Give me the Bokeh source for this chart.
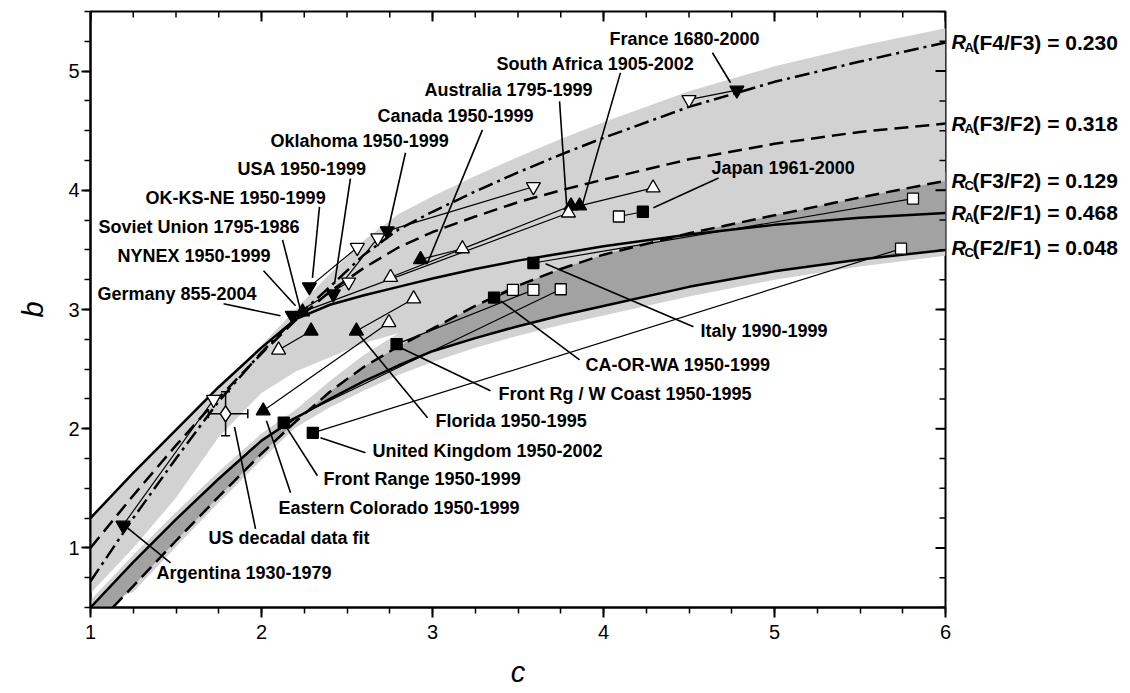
import numpy as np
from bokeh.plotting import figure
from bokeh.models import Range1d, FixedTicker, LinearAxis, ColumnDataSource
from bokeh.embed import file_html
from bokeh.resources import INLINE
from bokeh.core.properties import value

# ---------------- data ----------------
c_grid = [1.0, 1.25, 1.5, 1.75, 2.0, 2.2, 2.4, 2.6, 2.8, 3.0, 3.25, 3.5, 3.75, 4.0, 4.5, 5.0, 5.5, 6.0]
b_RA_F4F3 = [0.72, 1.25, 1.75, 2.23, 2.64, 2.93, 3.19, 3.46, 3.67, 3.82, 3.99, 4.15, 4.30, 4.44, 4.70, 4.91, 5.08, 5.24]
b_RA_F3F2 = [1.00, 1.44, 1.86, 2.26, 2.63, 2.91, 3.15, 3.35, 3.52, 3.65, 3.78, 3.90, 4.00, 4.09, 4.26, 4.39, 4.49, 4.56]
b_RA_F2F1 = [1.25, 1.63, 1.99, 2.35, 2.68, 2.92, 3.04, 3.12, 3.19, 3.26, 3.34, 3.41, 3.47, 3.53, 3.63, 3.71, 3.77, 3.81]
b_RC_F2F1 = [0.50, 0.88, 1.24, 1.58, 1.90, 2.09, 2.25, 2.40, 2.53, 2.65, 2.76, 2.86, 2.95, 3.03, 3.19, 3.32, 3.42, 3.50]
c_RC_F3F2 = [1.13, 1.25, 1.5, 1.75, 2.0, 2.2, 2.4, 2.6, 2.8, 3.0, 3.25, 3.5, 3.75, 4.0, 4.5, 5.0, 5.5, 6.0]
b_RC_F3F2 = [0.50, 0.68, 1.06, 1.43, 1.79, 2.06, 2.31, 2.52, 2.69, 2.84, 3.03, 3.20, 3.34, 3.46, 3.64, 3.79, 3.94, 4.08]

# shaded bands (edges, on c_grid)
band_hi = [1.25, 1.63, 1.99, 2.35, 2.70, 3.00, 3.30, 3.58, 3.80, 3.95, 4.12, 4.28, 4.43, 4.57, 4.83, 5.04, 5.21, 5.36]
band_lo = [0.62, 1.00, 1.42, 1.93, 2.30, 2.48, 2.60, 2.72, 2.80, 2.88, 2.98, 3.08, 3.18, 3.28, 3.45, 3.62, 3.78, 3.92]
halo_lo = [0.50, 0.63, 1.01, 1.38, 1.74, 2.01, 2.18, 2.32, 2.45, 2.56, 2.68, 2.78, 2.87, 2.95, 3.11, 3.25, 3.36, 3.45]
halo_hi = [0.56, 0.94, 1.30, 1.64, 1.96, 2.16, 2.40, 2.62, 2.80, 2.95, 3.12, 3.28, 3.42, 3.54, 3.72, 3.87, 4.01, 4.15]

# data series (c, b, open marker?)
series_names = ["France", "South Africa", "Australia", "Canada", "Oklahoma", "OK-KS-NE", "USA",
                "Germany", "Soviet Union", "NYNEX", "Florida", "Eastern Colorado", "Argentina",
                "Japan", "Italy", "CA-OR-WA", "Front Rg / W Coast", "Front Range", "United Kingdom"]
series_marker = ["inverted_triangle", "triangle", "triangle", "triangle", "inverted_triangle",
                 "inverted_triangle", "inverted_triangle", "inverted_triangle", "triangle", "triangle",
                 "triangle", "triangle", "inverted_triangle", "square", "square", "square", "square",
                 "square", "square"]
series_c = [[4.50, 4.78], [3.86, 4.29], [2.755, 3.81], [2.93, 3.175], [2.735, 3.59], [2.28, 2.56],
            [2.42, 2.68], [2.18, 2.51], [2.24, 3.795], [2.10, 2.29], [2.555, 2.89], [2.01, 2.745],
            [1.19, 1.72], [4.09, 4.23], [3.59, 5.81], [3.36, 3.47], [2.79, 3.59], [2.13, 3.75],
            [2.30, 5.74]]
series_b = [[4.76, 4.84], [3.87, 4.02], [3.27, 3.87], [3.42, 3.51], [3.66, 4.03], [3.19, 3.52],
            [3.13, 3.60], [2.95, 3.23], [2.98, 3.81], [2.66, 2.82], [2.82, 3.09], [2.15, 2.89],
            [1.19, 2.245], [3.78, 3.82], [3.39, 3.93], [3.10, 3.165], [2.71, 3.165], [2.05, 3.17],
            [1.965, 3.51]]
series_open = [[True, False], [False, True], [True, False], [False, True], [False, True], [False, True],
               [False, True], [False, True], [False, True], [True, False], [False, True], [False, True],
               [False, True], [True, False], [False, True], [False, True], [False, True], [False, True],
               [False, True]]

# US decadal data fit with error bars
us_c, us_b = 1.79, 2.125
us_c_lo, us_c_hi = 1.69, 1.92
us_b_lo, us_b_hi = 1.94, 2.31

# annotation labels: text, anchor (left, middle) and leader line
label_text = ["Oklahoma 1950-1999", "USA 1950-1999", "OK-KS-NE 1950-1999", "Soviet Union 1795-1986",
              "NYNEX 1950-1999", "Germany 855-2004", "Canada 1950-1999", "Australia 1795-1999",
              "South Africa 1905-2002", "France 1680-2000", "Japan 1961-2000", "Italy 1990-1999",
              "CA-OR-WA 1950-1999", "Front Rg / W Coast 1950-1995", "Florida 1950-1995",
              "United Kingdom 1950-2002", "Front Range 1950-1999", "Eastern Colorado 1950-1999",
              "US decadal data fit", "Argentina 1930-1979"]
label_c = [2.053, 1.860, 1.322, 1.047, 1.158, 1.041, 2.678, 2.953, 3.374, 4.035, 4.632, 4.567,
           3.895, 3.386, 3.018, 2.649, 2.363, 2.099, 1.690, 1.386]
label_b = [4.414, 4.179, 3.936, 3.693, 3.450, 3.132, 4.624, 4.839, 5.062, 5.272, 4.188, 2.822,
           2.536, 2.293, 2.066, 1.815, 1.580, 1.337, 1.085, 0.791]
lead_c0 = [2.842, 2.520, 2.339, 2.123, 2.012, 1.778, 3.292, 3.743, 4.099, 4.637, 4.673, 4.526,
           3.860, 3.339, 2.971, 2.608, 2.327, 2.170, 1.965, 1.468]
lead_b0 = [4.315, 4.097, 3.861, 3.584, 3.325, 3.048, 4.507, 4.746, 4.985, 5.154, 4.104, 2.855,
           2.578, 2.318, 2.092, 1.798, 1.605, 1.463, 1.160, 0.875]
lead_c1 = [2.743, 2.427, 2.298, 2.234, 2.199, 2.111, 2.971, 3.784, 3.877, 4.743, 4.292, 3.661,
           3.398, 2.813, 2.561, 2.345, 2.152, 2.029, 1.842, 1.216]
lead_b1 = [3.684, 3.215, 3.265, 2.963, 3.032, 2.947, 3.391, 3.882, 3.882, 4.902, 3.853, 3.384,
           3.073, 2.679, 2.805, 1.924, 1.999, 2.067, 2.016, 1.169]

# curve labels on the right
curve_sub = ["A", "A", "C", "A", "C"]
curve_rest = ["(F4/F3) = 0.230", "(F3/F2) = 0.318", "(F3/F2) = 0.129", "(F2/F1) = 0.468", "(F2/F1) = 0.048"]
curve_end_b = [5.24, 4.56, 4.08, 3.81, 3.52]

x_ticks = [1, 2, 3, 4, 5, 6]
y_ticks = [1, 2, 3, 4, 5]
x_minor = [round(v, 2) for v in np.arange(1, 6.001, 0.25)]
y_minor = [round(v, 2) for v in np.arange(0.5, 5.501, 0.25)]
X0, X1, Y0, Y1 = 1, 6, 0.5, 5.5

# ---------------- figure ----------------
FONT = "Liberation Sans"
p = figure(frame_width=855, frame_height=596, x_range=Range1d(X0, X1), y_range=Range1d(Y0, Y1),
           output_backend="svg", toolbar_location=None,
           min_border_left=90, min_border_right=183, min_border_top=11, min_border_bottom=84,
           x_axis_label="c", y_axis_label="b")
p.grid.visible = False
p.outline_line_color = "black"
p.outline_line_width = 2
p.background_fill_color = "white"
p.border_fill_color = "white"

bottom_ax = p.below[0]
left_ax = p.left[0]
bottom_ax.ticker = FixedTicker(ticks=x_ticks, minor_ticks=x_minor)
left_ax.ticker = FixedTicker(ticks=y_ticks, minor_ticks=y_minor)

for ax in [bottom_ax, left_ax]:
    ax.major_tick_out = 10
    ax.major_tick_in = 0
    ax.minor_tick_out = 6
    ax.minor_tick_in = 0
    ax.major_label_text_font = FONT
    ax.major_label_text_font_size = "20px"
    ax.major_label_text_color = "black"
    ax.axis_label_text_font = FONT
    ax.axis_label_text_font_size = "29px"
    ax.axis_label_text_font_style = "italic"
    ax.axis_label_text_color = "black"
    ax.axis_line_width = 2
    ax.major_tick_line_width = 2
    ax.minor_tick_line_width = 1.5
    ax.axis_line_color = "black"
    ax.major_tick_line_color = "black"
    ax.minor_tick_line_color = "black"
bottom_ax.major_label_standoff = 7
bottom_ax.axis_label_standoff = 14
left_ax.major_tick_out = 9
left_ax.major_label_standoff = 2
left_ax.axis_label_standoff = 16

# right-hand curve labels as stacked label-only axes (R, subscript, rest)
def label_axis(ticks, texts, size, style, standoff):
    ax = LinearAxis(ticker=FixedTicker(ticks=ticks, minor_ticks=[]),
                    major_label_overrides={t: s for t, s in zip(ticks, texts)})
    ax.major_tick_in = 0
    ax.major_tick_out = 0
    ax.minor_tick_in = 0
    ax.minor_tick_out = 0
    ax.axis_line_color = None
    ax.major_tick_line_color = None
    ax.minor_tick_line_color = None
    ax.major_label_standoff = standoff
    ax.major_label_text_font = FONT
    ax.major_label_text_font_size = size
    ax.major_label_text_font_style = style
    ax.major_label_text_color = "black"
    ax.major_label_orientation = "horizontal"
    return ax

sub_shift = 0.042  # subscript drop (about 5 px)
sub_ticks = [round(b - sub_shift, 3) for b in curve_end_b]
p.add_layout(label_axis(curve_end_b, ["R"] * len(curve_end_b), "20px", "bold italic", 6), "right")
p.add_layout(label_axis(sub_ticks, curve_sub, "13px", "bold", -4), "right")
p.add_layout(label_axis(curve_end_b, curve_rest, "21px", "bold", -4), "right")

# ---------------- bands ----------------
LIGHT = "#d2d2d2"
DARK = "#a2a2a2"
p.varea(x=c_grid, y1=band_lo, y2=band_hi, fill_color=LIGHT)
p.varea(x=c_grid, y1=halo_lo, y2=halo_hi, fill_color=LIGHT)
p.patch(x=c_grid + c_RC_F3F2[::-1], y=b_RC_F2F1 + b_RC_F3F2[::-1], fill_color=DARK, line_color=None)

# ---------------- curves ----------------
p.line(c_grid, b_RA_F4F3, line_color="black", line_width=2.5, line_dash="15 5 3 5")
p.line(c_grid, b_RA_F3F2, line_color="black", line_width=2.5, line_dash="14 7")
p.line(c_grid, b_RA_F2F1, line_color="black", line_width=2.5)
p.line(c_grid, b_RC_F2F1, line_color="black", line_width=2.5)
p.line(c_RC_F3F2, b_RC_F3F2, line_color="black", line_width=2.5, line_dash="14 7")

# ---------------- series connectors & leaders ----------------
p.multi_line(xs=series_c, ys=series_b, line_color="black", line_width=1.2)
p.segment(x0=lead_c0, y0=lead_b0, x1=lead_c1, y1=lead_b1, line_color="black", line_width=1.6)

# error bars of US decadal fit
p.segment(x0=[us_c_lo, us_c], y0=[us_b, us_b_lo], x1=[us_c_hi, us_c], y1=[us_b, us_b_hi],
          line_color="black", line_width=1.5)
p.scatter(x=[us_c_lo, us_c_hi], y=[us_b, us_b], marker="dash", size=9, angle=np.pi / 2,
          line_color="black", line_width=1.5)
p.scatter(x=[us_c, us_c], y=[us_b_lo, us_b_hi], marker="dash", size=9,
          line_color="black", line_width=1.5)
p.scatter(x=[us_c], y=[us_b], marker="diamond", size=16, fill_color="white",
          line_color="black", line_width=1.5)

# markers
mx, my, mk, mf, ms = [], [], [], [], []
for m, cs, bs, os_ in zip(series_marker, series_c, series_b, series_open):
    for cc, bb, oo in zip(cs, bs, os_):
        mx.append(cc)
        my.append(bb)
        mk.append(m)
        mf.append("white" if oo else "black")
        ms.append(11 if m == "square" else 14)
src = ColumnDataSource(dict(x=mx, y=my, marker=mk, fill=mf, size=ms))
p.scatter(x="x", y="y", marker="marker", size="size", fill_color="fill", line_color="black",
          line_width=1.3, source=src)

# inward ticks on the top and right frame edges (half of each dash is clipped by the frame)
p.scatter(x=x_minor, y=[Y1] * len(x_minor), marker="dash", size=12, angle=np.pi / 2,
          line_color="black", line_width=1.5)
p.scatter(x=x_ticks, y=[Y1] * len(x_ticks), marker="dash", size=20, angle=np.pi / 2,
          line_color="black", line_width=2)
p.scatter(x=[X1] * len(y_minor), y=y_minor, marker="dash", size=12,
          line_color="black", line_width=1.5)
p.scatter(x=[X1] * len(y_ticks), y=y_ticks, marker="dash", size=20,
          line_color="black", line_width=2)

# ---------------- labels ----------------
p.text(x=label_c, y=label_b, text=label_text, text_font=value(FONT), text_font_style="bold",
       text_font_size="18px", text_baseline="middle", text_align="left", text_color="black")

open("out.html", "w").write(file_html(p, INLINE))
